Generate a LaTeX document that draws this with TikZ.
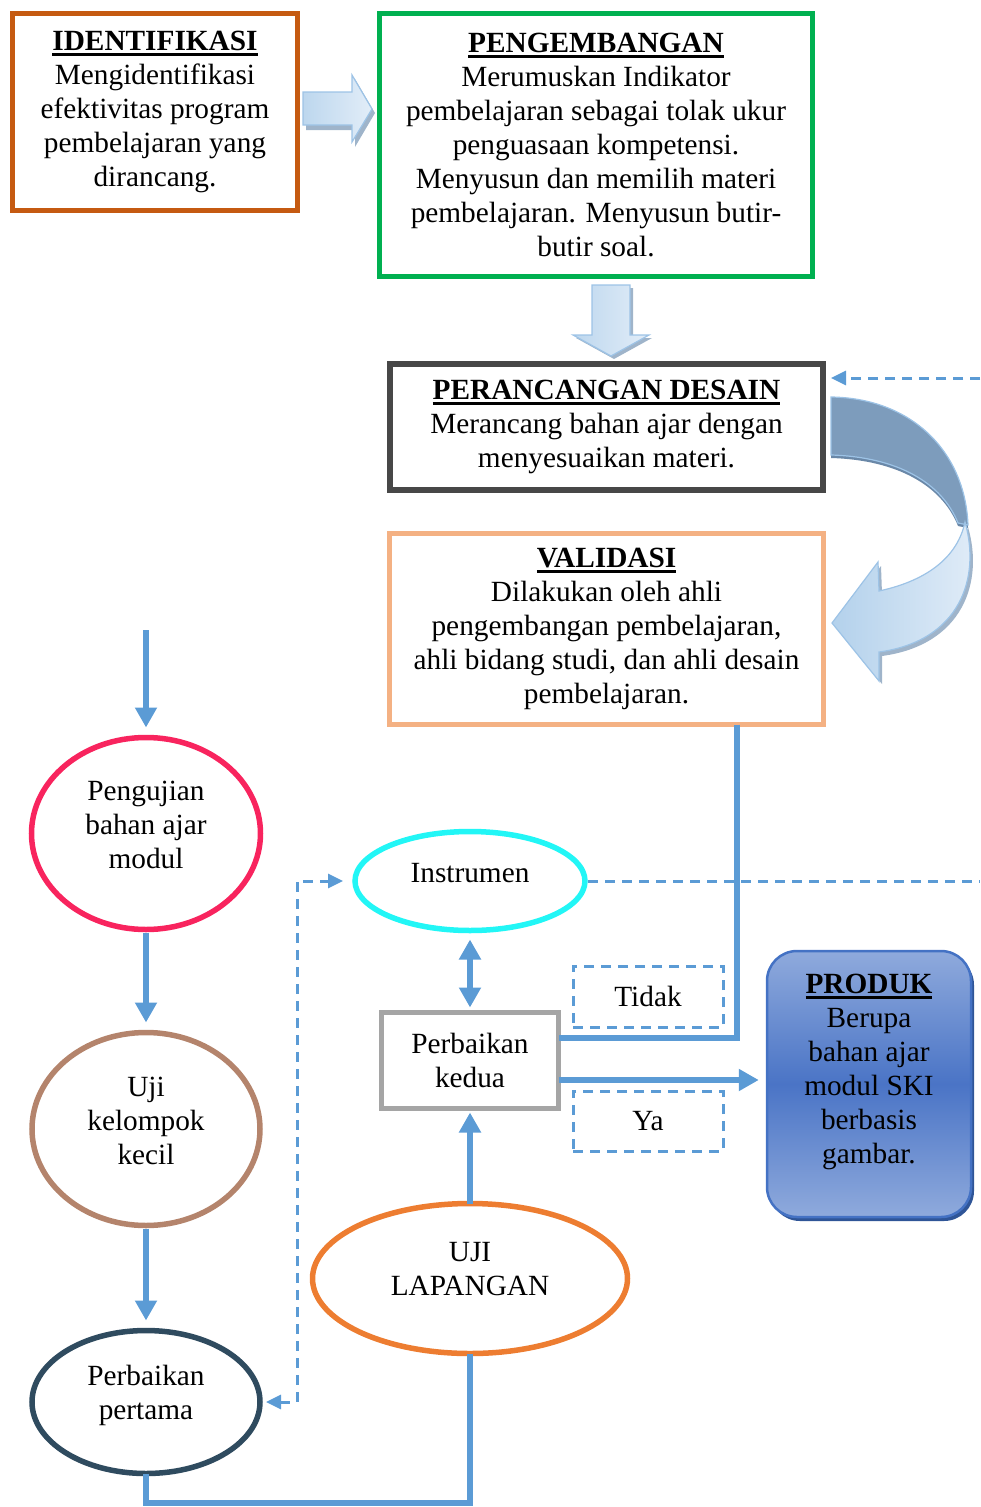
\documentclass[tikz,border=0pt]{standalone}
\usepackage{fontspec}
\setmainfont{Liberation Serif}
\usetikzlibrary{arrows.meta,shapes.geometric,calc,shadows}
\definecolor{cblue}{HTML}{5B9BD5}
\definecolor{corange}{HTML}{C55A11}
\definecolor{cgreen}{HTML}{00B050}
\definecolor{cdgray}{HTML}{474747}
\definecolor{cpeach}{HTML}{F4B183}
\definecolor{cgray}{HTML}{A5A5A5}
\definecolor{cpink}{HTML}{F8245E}
\definecolor{cbrown}{HTML}{B4846C}
\definecolor{cslate}{HTML}{2F4B5F}
\definecolor{ccyan}{HTML}{22F6F6}
\definecolor{cul}{HTML}{ED7D31}
\definecolor{cbarb}{HTML}{9DC3E6}
\definecolor{cbara}{HTML}{BDD7EE}
\definecolor{cbarc}{HTML}{E2EDF8}
\definecolor{cshad}{HTML}{9FB4CA}
\definecolor{cdark}{HTML}{7D9CBC}
\definecolor{cdarksh}{HTML}{6A88A8}
\definecolor{cprodtop}{HTML}{8FAADC}
\definecolor{cprodmid}{HTML}{4A74C6}
\definecolor{cprodbd}{HTML}{4472C4}
\definecolor{cprodsh}{HTML}{2F5597}
\newcommand\myhead[1]{\setbox0\hbox{\bfseries #1}\rlap{\rule[-5.5pt]{\wd0}{3.2pt}}\box0}
\begin{document}
\begin{tikzpicture}[x=1pt,y=-1pt,
  txt/.style={align=center,font=\fontsize{29.3}{34}\selectfont,inner sep=0pt,outer sep=0pt},
  rbox/.style={draw,line width=5.5pt,inner sep=0pt,outer sep=0pt,align=center,font=\fontsize{29.3}{34}\selectfont},
  ell/.style={ellipse,draw,line width=5.5pt,inner sep=0pt,outer sep=0pt},
  conn/.style={draw=cblue,line width=6pt},
  arr/.style={conn,-{Triangle[length=20pt,width=21pt]}},
  darr/.style={conn,{Triangle[length=20pt,width=21pt]}-{Triangle[length=20pt,width=21pt]}},
  dline/.style={draw=cblue,line width=3pt,dash pattern=on 10pt off 7pt},
  dtip/.style={-{Triangle[length=15pt,width=14pt]}},
  dbox/.style={dline,inner sep=0pt,outer sep=0pt,font=\fontsize{29.3}{34}\selectfont},
  barrow/.style={draw=cbarb,line width=1.2pt,left color=cbara,right color=cbarc},
  bshadow/.style={fill=cshad}
]
\useasboundingbox (0,0) rectangle (980,1507);

% ---------- boxes ----------
\node[rbox,draw=corange,minimum width=285pt,minimum height=197pt] (ident) at (155,112)
  {\myhead{IDENTIFIKASI}\\Mengidentifikasi\\efektivitas program\\pembelajaran yang\\dirancang.};
\node[rbox,draw=cgreen,minimum width=433pt,minimum height=263pt] (peng) at (596,145)
  {\myhead{PENGEMBANGAN}\\Merumuskan Indikator\\pembelajaran sebagai tolak ukur\\penguasaan kompetensi.\\Menyusun dan memilih materi\\pembelajaran. Menyusun butir-\\butir soal.};
\node[rbox,draw=cdgray,line width=6pt,minimum width=433pt,minimum height=126pt] (pd) at (606.5,427)
  {\myhead{PERANCANGAN DESAIN}\\Merancang bahan ajar dengan\\menyesuaikan materi.};
\node[rbox,draw=cpeach,minimum width=434pt,minimum height=191pt] (val) at (606.5,629)
  {\myhead{VALIDASI}\\Dilakukan oleh ahli\\pengembangan pembelajaran,\\ahli bidang studi, dan ahli desain\\pembelajaran.};
\node[rbox,draw=cgray,minimum width=177pt,minimum height=96pt] (pk) at (470,1060.5)
  {Perbaikan\\kedua};
\node[dbox,minimum width=150pt,minimum height=61pt] (tidak) at (648,996.5) {Tidak};
\node[dbox,minimum width=150pt,minimum height=60pt] (ya) at (648,1121) {Ya};
\node[draw=cprodbd,line width=2.5pt,rounded corners=30pt,minimum width=204pt,minimum height=266pt,
  top color=cprodtop,bottom color=cprodtop,middle color=cprodmid,
  drop shadow={shadow xshift=3pt,shadow yshift=-4pt,fill=cprodsh,opacity=1}] (produk) at (869,1084) {};
\node[txt] (tprod) at (869,1072) {\myhead{PRODUK}\\Berupa\\bahan ajar\\modul SKI\\berbasis\\gambar.};

% ---------- ellipses ----------
\node[ell,draw=cpink,minimum width=229pt,minimum height=192pt] (uji) at (146,833.5) {};
\node[ell,draw=cbrown,minimum width=228pt,minimum height=193pt] (ujk) at (146,1129) {};
\node[ell,draw=cslate,minimum width=228pt,minimum height=143pt] (pp) at (146,1402) {};
\node[ell,draw=ccyan,minimum width=230pt,minimum height=99pt] (ins) at (470,881) {};
\node[ell,draw=cul,minimum width=315pt,minimum height=150pt] (ul) at (470,1278.5) {};
\node[txt] (tuji) at (146,825) {Pengujian\\bahan ajar\\modul};
\node[txt] (tujk) at (146,1121) {Uji\\kelompok\\kecil};
\node[txt] (tpp) at (146,1395) {Perbaikan\\pertama};
\node[txt] (tins) at (470,873) {Instrumen};
\node[txt] (tul) at (470,1269) {UJI\\LAPANGAN};

% ---------- block arrows ----------
\fill[bshadow] (306,96) -- (355,96) -- (355,79) -- (375,113) -- (355,147) -- (355,130) -- (306,130) -- cycle;
\path[barrow] (303,92) -- (352,92) -- (352,75) -- (372,109) -- (352,142) -- (352,125) -- (303,125) -- cycle;
\fill[bshadow] (595,288) -- (633,288) -- (633,338) -- (652,338) -- (614,359) -- (576,338) -- (595,338) -- cycle;
\path[barrow] (592,285) -- (630,285) -- (630,335) -- (649,335) -- (611,356) -- (573,335) -- (592,335) -- cycle;

% curved arrow
\fill[cdarksh] (831,400) .. controls (910,401) and (965,453) .. (968,528) -- (958,526) .. controls (942,486) and (898,460) .. (831,458) -- cycle;
\path[fill=cdark,draw=cbarb,line width=1.2pt] (831,397) .. controls (910,398) and (965,450) .. (968,525) -- (958,523) .. controls (942,483) and (898,457) .. (831,455) -- cycle;
\fill[cshad] (968,527) .. controls (984,582) and (963,645) .. (882,656) -- (882,684) -- (835,626) -- (881,566) -- (882,594) .. controls (933,583) and (961,558) .. (968,527) -- cycle;
\path[draw=cbarb,line width=1.2pt,left color=cbara!90!cblue,right color=cbarc] (965,522) .. controls (981,578) and (960,641) .. (879,652) -- (879,681) -- (832,623) -- (878,562) -- (879,591) .. controls (930,580) and (958,555) .. (965,522) -- cycle;

% ---------- connectors ----------
\coordinate (s0) at (146,630);
\draw[arr,shorten >=10pt] (s0) -- (s0 |- uji.north);
\draw[arr,shorten <=3pt,shorten >=10pt] (uji.south) -- (ujk.north);
\draw[arr,shorten <=3pt,shorten >=10pt] (ujk.south) -- (pp.north);
\coordinate (bot) at (0,1503);
\draw[conn] (pp.south) |- (bot -| ul.south) -- (ul.south);
\draw[arr,shorten >=4pt] (ul.north) -- (pk.south);
\draw[darr,shorten <=9pt,shorten >=5pt] (ins.south) -- (pk.north);
\draw[conn] ([xshift=130.5pt]val.south) |- ([yshift=22.5pt]pk.east);
\coordinate (pkr) at ([yshift=-19.5pt]pk.east);
\draw[arr,shorten >=7pt] (pkr) -- (pkr -| produk.west);

% dashed
\coordinate (r1) at (980,378);
\draw[dline,dtip,shorten >=8pt] (r1) -- (r1 -| pd.east);
\coordinate (r2) at (980,881);
\draw[dline,shorten <=3pt] (ins.east) -- (r2);
\draw[dline,{Triangle[length=15pt,width=14pt]}-{Triangle[length=15pt,width=14pt]},shorten <=6pt,shorten >=12pt] (pp.east) -- ++(37,0) |- (ins.west);
\end{tikzpicture}
\end{document}
